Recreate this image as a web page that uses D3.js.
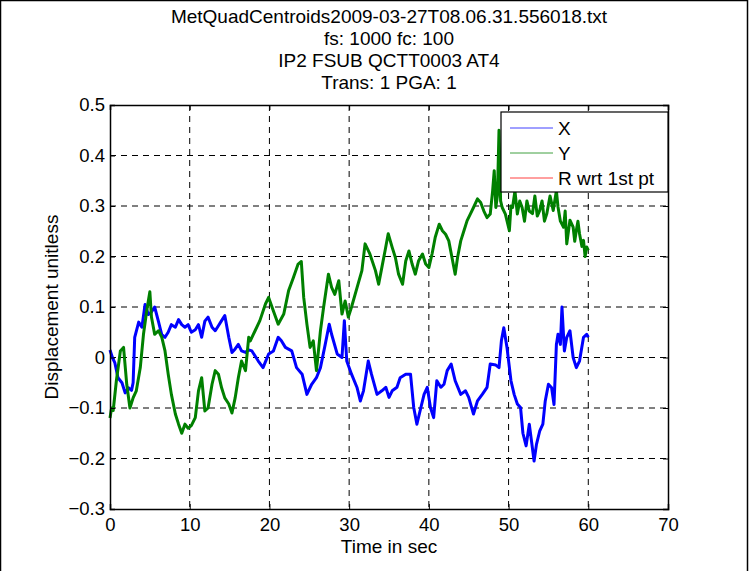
<!DOCTYPE html>
<html>
<head>
<meta charset="utf-8">
<script src="https://cdn.jsdelivr.net/npm/d3@7"></script>
<style>
  body { margin: 0; background: #fff; }
  text { font-family: "Liberation Sans", Arial, sans-serif; fill: #000; }
</style>
</head>
<body>
<div id="chart"></div>
<script>
// Title lines and labels
const titleLines = [
  "MetQuadCentroids2009-03-27T08.06.31.556018.txt",
  "fs: 1000 fc: 100",
  "IP2 FSUB QCTT0003 AT4",
  "Trans: 1 PGA: 1"
];
const xTicks = [0, 10, 20, 30, 40, 50, 60, 70];
const yTicks = [-0.3, -0.2, -0.1, 0, 0.1, 0.2, 0.3, 0.4, 0.5];
const legendNames = ["X", "Y", "R wrt 1st pt"];

// X displacement, [time (s), value]
const xSeries = [
  [0, 0.015], [0.3, 0.0], [0.6, -0.01], [1.0, -0.04], [1.5, -0.05], [1.9, -0.07],
  [2.3, -0.06], [2.7, -0.065], [2.9, -0.05], [3.1, 0.04], [3.6, 0.07], [4.0, 0.06],
  [4.4, 0.105], [4.8, 0.085], [5.2, 0.09], [5.6, 0.1], [6.1, 0.07], [6.5, 0.045],
  [6.9, 0.04], [7.3, 0.05], [7.7, 0.065], [8.2, 0.06], [8.6, 0.075], [9.0, 0.065],
  [9.4, 0.06], [9.8, 0.065], [10.2, 0.05], [10.7, 0.055], [11.1, 0.065], [11.5, 0.04],
  [11.9, 0.072], [12.3, 0.08], [12.8, 0.06], [13.2, 0.053], [13.6, 0.063], [14.0, 0.073],
  [14.4, 0.083], [14.9, 0.04], [15.3, 0.01], [15.7, 0.017], [16.1, 0.026], [16.5, 0.013],
  [17.0, 0.01], [17.4, 0.015], [17.8, 0.013], [18.6, -0.007], [19.2, -0.02], [19.9, 0.007],
  [20.5, 0.013], [21.1, 0.04], [21.5, 0.033], [22.0, 0.02], [22.8, 0.013], [23.4, -0.02],
  [24.1, -0.033], [24.7, -0.073], [25.3, -0.053], [25.9, -0.04], [26.4, -0.02], [27.0, 0.026],
  [27.5, 0.066], [27.8, 0.046], [28.5, 0.007], [29.1, 0.0], [29.4, 0.073], [29.7, -0.007],
  [30.3, -0.033], [31.0, -0.06], [31.4, -0.086], [31.8, -0.066], [32.4, -0.007], [32.8, -0.033],
  [33.5, -0.073], [34.1, -0.066], [34.6, -0.059], [35.0, -0.079], [35.4, -0.066], [36.0, -0.059],
  [36.4, -0.04], [37.1, -0.033], [37.7, -0.033], [38.1, -0.099], [38.5, -0.132], [39.0, -0.099],
  [39.4, -0.073], [39.8, -0.059], [40.2, -0.099], [40.6, -0.119], [41.0, -0.046], [41.5, -0.059],
  [41.9, -0.053], [42.3, -0.026], [42.8, -0.013], [43.3, -0.046], [44.0, -0.073], [44.6, -0.066],
  [45.0, -0.079], [45.6, -0.112], [46.1, -0.086], [46.7, -0.073], [47.3, -0.059], [47.7, -0.013],
  [48.4, -0.015], [48.8, -0.02], [49.1, 0.033], [49.4, 0.059], [49.8, 0.02], [50.3, -0.046],
  [50.7, -0.073], [51.1, -0.092], [51.5, -0.099], [51.8, -0.15], [52.2, -0.175], [52.6, -0.132],
  [53.2, -0.205], [53.5, -0.172], [53.9, -0.146], [54.3, -0.132], [54.6, -0.086], [55.0, -0.053],
  [55.4, -0.06], [55.7, -0.093], [56.0, 0.026], [56.2, 0.046], [56.5, 0.026], [56.7, 0.1],
  [57.0, 0.013], [57.3, 0.04], [57.7, 0.053], [58.1, 0.0], [58.5, -0.02], [58.9, -0.007],
  [59.4, 0.04], [59.8, 0.046], [60.0, 0.04]
];

// Y displacement, [time (s), value]
const ySeries = [
  [0, -0.12], [0.2, -0.1], [0.4, -0.105], [0.8, -0.046], [1.3, 0.013], [1.7, 0.02],
  [2.1, -0.053], [2.5, -0.1], [2.9, -0.08], [3.3, -0.066], [3.8, -0.02], [4.2, 0.046],
  [4.6, 0.092], [5.0, 0.13], [5.2, 0.08], [5.6, 0.046], [6.1, 0.053], [6.5, 0.04],
  [6.9, 0.013], [7.3, -0.033], [7.7, -0.073], [8.2, -0.112], [8.6, -0.132], [9.0, -0.15],
  [9.4, -0.132], [9.8, -0.14], [10.2, -0.135], [10.7, -0.119], [11.1, -0.066], [11.5, -0.04],
  [11.9, -0.106], [12.3, -0.1], [12.8, -0.053], [13.2, -0.026], [13.6, -0.033], [14.0, -0.06],
  [14.4, -0.08], [14.9, -0.092], [15.3, -0.11], [15.7, -0.08], [16.1, -0.04], [16.5, -0.007],
  [17.0, -0.026], [17.4, 0.04], [17.6, 0.033], [18.2, 0.053], [18.8, 0.073], [19.5, 0.106],
  [19.9, 0.119], [20.5, 0.092], [21.1, 0.066], [21.8, 0.086], [22.4, 0.132], [23.0, 0.158],
  [23.6, 0.185], [24.0, 0.19], [24.3, 0.119], [24.7, 0.066], [25.1, 0.02], [25.5, 0.033],
  [25.9, -0.026], [26.4, 0.053], [26.8, 0.1], [27.4, 0.165], [27.8, 0.139], [28.2, 0.125],
  [28.7, 0.152], [29.1, 0.086], [29.5, 0.112], [29.9, 0.08], [30.3, 0.1], [31.0, 0.139],
  [31.6, 0.172], [32.0, 0.225], [32.6, 0.205], [33.3, 0.172], [33.7, 0.145], [34.1, 0.178],
  [34.5, 0.211], [34.9, 0.245], [35.4, 0.218], [35.8, 0.198], [36.2, 0.165], [36.7, 0.145],
  [37.1, 0.191], [37.5, 0.211], [37.9, 0.185], [38.3, 0.165], [38.7, 0.191], [39.2, 0.205],
  [39.6, 0.185], [40.0, 0.178], [40.4, 0.205], [40.8, 0.238], [41.3, 0.264], [41.7, 0.251],
  [42.1, 0.244], [42.5, 0.231], [42.9, 0.198], [43.3, 0.165], [43.6, 0.198], [44.0, 0.231],
  [44.4, 0.251], [44.8, 0.271], [45.2, 0.284], [45.6, 0.297], [46.1, 0.314], [46.5, 0.307],
  [46.9, 0.29], [47.3, 0.277], [47.7, 0.284], [48.0, 0.33], [48.2, 0.37], [48.4, 0.297],
  [48.6, 0.32], [48.8, 0.45], [49.0, 0.31], [49.2, 0.297], [49.6, 0.284], [50.1, 0.251],
  [50.3, 0.3], [50.5, 0.297], [50.8, 0.33], [51.1, 0.284], [51.4, 0.31], [51.7, 0.297],
  [52.0, 0.27], [52.3, 0.31], [52.6, 0.29], [53.0, 0.285], [53.3, 0.32], [53.6, 0.28],
  [53.9, 0.291], [54.2, 0.31], [54.5, 0.27], [54.8, 0.285], [55.2, 0.32], [55.6, 0.291],
  [56.0, 0.33], [56.2, 0.298], [56.5, 0.27], [56.9, 0.258], [57.1, 0.29], [57.3, 0.225],
  [57.7, 0.272], [58.1, 0.258], [58.3, 0.23], [58.5, 0.252], [58.7, 0.27], [58.9, 0.245],
  [59.2, 0.22], [59.4, 0.232], [59.6, 0.2], [59.8, 0.219], [60.0, 0.212]
];

// R wrt 1st pt: in the legend but no visible trace in the picture
const rSeries = [];

const seriesColors = ["#0000ff", "#008000", "#ff0000"];

const W = 755, H = 571;
const margin = { top: 105, right: 87, bottom: 62, left: 110 },
      width = W - margin.left - margin.right,
      height = H - margin.top - margin.bottom;

const svg = d3.select("#chart")
  .append("svg")
    .attr("width", W)
    .attr("height", H);

// figure border
svg.append("rect")
  .attr("x", 0.5).attr("y", 0.5)
  .attr("width", 747).attr("height", 600)
  .attr("fill", "none")
  .attr("stroke", "#000")
  .attr("stroke-width", 1.5);

const g = svg.append("g")
  .attr("transform", "translate(" + margin.left + "," + margin.top + ")");

const x = d3.scaleLinear().domain([0, 70]).range([0, width]);
const y = d3.scaleLinear().domain([-0.3, 0.5]).range([height, 0]);

// grid
g.selectAll(".vgrid")
  .data(xTicks.slice(1, -1))
  .enter().append("line")
    .attr("x1", d => x(d)).attr("x2", d => x(d))
    .attr("y1", 0).attr("y2", height)
    .attr("stroke", "#000")
    .attr("stroke-dasharray", "6,5");

g.selectAll(".hgrid")
  .data(yTicks.slice(1, -1))
  .enter().append("line")
    .attr("y1", d => y(d)).attr("y2", d => y(d))
    .attr("x1", 0).attr("x2", width)
    .attr("stroke", "#000")
    .attr("stroke-dasharray", "6,5");

// traces
const line = d3.line()
  .x(d => x(d[0]))
  .y(d => y(d[1]));

[xSeries, ySeries, rSeries].forEach((s, i) => {
  if (!s.length) return;
  g.append("path")
    .datum(s)
    .attr("d", line)
    .attr("fill", "none")
    .attr("stroke", seriesColors[i])
    .attr("stroke-width", 3)
    .attr("stroke-linejoin", "round");
});

// axes with inward ticks
g.append("g")
  .attr("transform", "translate(0," + height + ")")
  .call(d3.axisBottom(x).tickValues(xTicks).tickSize(-5).tickPadding(9).tickFormat(d3.format("d")));
g.append("g")
  .call(d3.axisLeft(y).tickValues(yTicks).tickSize(-5).tickPadding(5).tickFormat(d => d3.format("")(+d.toFixed(1))));
g.append("g")
  .call(d3.axisTop(x).tickValues(xTicks).tickSize(-5).tickFormat(""));
g.append("g")
  .attr("transform", "translate(" + width + ",0)")
  .call(d3.axisRight(y).tickValues(yTicks).tickSize(-5).tickFormat(""));

g.selectAll(".domain").attr("stroke", "#000").attr("stroke-width", 1.5);
g.selectAll(".tick line").attr("stroke", "#000");
g.selectAll(".tick text").style("font-size", "18.5px").style("font-family", "'Liberation Sans', Arial, sans-serif");

// title
svg.selectAll(".title")
  .data(titleLines)
  .enter().append("text")
    .attr("x", margin.left + width / 2)
    .attr("y", (d, i) => 22.5 + i * 22.3)
    .attr("text-anchor", "middle")
    .style("font-size", "19px")
    .text(d => d);

// axis labels
svg.append("text")
  .attr("x", margin.left + width / 2)
  .attr("y", 553)
  .attr("text-anchor", "middle")
  .style("font-size", "19px")
  .text("Time in sec");

svg.append("text")
  .attr("transform", "translate(58," + (margin.top + height / 2) + ") rotate(-90)")
  .attr("text-anchor", "middle")
  .style("font-size", "19px")
  .text("Displacement unitless");

// legend
const legend = g.append("g")
  .attr("transform", "translate(" + (width - 167) + ",7)");
legend.append("rect")
  .attr("width", 167).attr("height", 80)
  .attr("fill", "#fff")
  .attr("stroke", "#000")
  .attr("stroke-width", 1.2);
const items = legend.selectAll(".item")
  .data(legendNames)
  .enter().append("g")
    .attr("transform", (d, i) => "translate(0," + (16 + i * 25) + ")");
items.append("line")
  .attr("x1", 9).attr("x2", 52)
  .attr("stroke", (d, i) => seriesColors[i])
  .attr("stroke-opacity", 0.75)
  .attr("stroke-width", 1);
items.append("text")
  .attr("x", 57).attr("dy", "0.36em")
  .style("font-size", "19px")
  .text(d => d);
</script>
</body>
</html>
